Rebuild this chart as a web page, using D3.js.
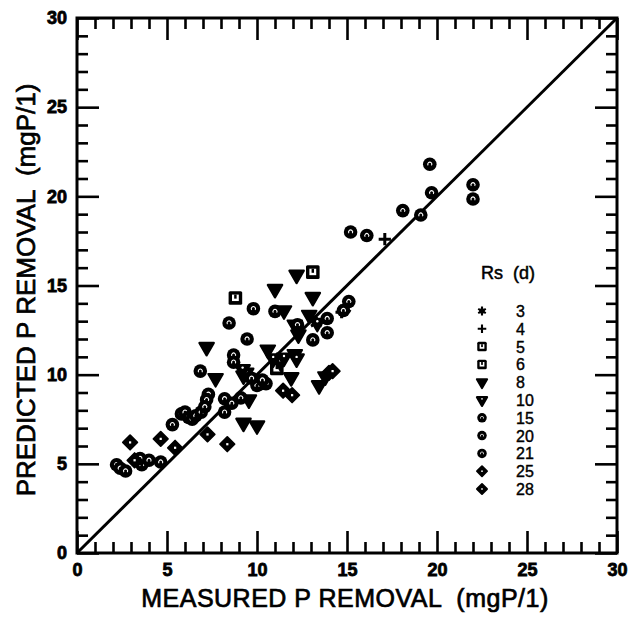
<!DOCTYPE html>
<html>
<head>
<meta charset="utf-8">
<script src="https://cdn.jsdelivr.net/npm/d3@7"></script>
<style>
  body { margin: 0; background: #fff; }
  text { font-family: "Liberation Sans", Arial, sans-serif; fill: #000; }
  .tick line { stroke: #000; stroke-width: 2.6; }
</style>
</head>
<body>
<svg width="628" height="617"></svg>
<script>
// retention times in the legend (days)
const rsLabels = ["3", "4", "5", "6", "8", "10", "15", "20", "21", "25", "28"];

// measured vs predicted P removal (mgP/l), one array per Rs
const rs3 = [[13.3, 12.9], [14.9, 13.7]];
const rs4 = [[17.1, 17.6], [14.7, 13.5]];
const rs5 = [[13.1, 15.75], [8.8, 14.3]];
const rs6 = [[11.1, 10.35]];
const rs8 = [[12.2, 15.6], [11.0, 14.8], [13.1, 14.35], [11.5, 13.6], [12.9, 13.35], [7.2, 11.55],
  [10.6, 11.4], [12.1, 11.15], [7.7, 9.8], [11.9, 9.85], [9.25, 9.95], [9.55, 8.6], [9.25, 7.3],
  [10.0, 7.15], [13.45, 9.4], [12.1, 12.8], [12.3, 12.25], [13.8, 9.9]];
const rs10 = [[12.2, 10.9], [11.3, 10.7], [10.9, 10.9], [9.4, 10.1], [9.2, 10.3], [13.35, 12.9], [11.5, 10.95]];
const rs15 = [[9.8, 13.7], [11.0, 13.55], [9.45, 12.0], [6.85, 10.2], [8.7, 11.1], [8.7, 10.7], [8.2, 8.65],
  [8.2, 7.9], [5.3, 7.2], [4.65, 5.1], [15.2, 18.0], [16.1, 17.8], [19.6, 21.8], [19.7, 20.2], [22.0, 20.65], [22.0, 19.85]];
const rs20 = [[8.45, 12.9], [13.1, 11.95], [13.9, 12.35], [13.9, 13.15], [12.25, 12.8], [15.1, 14.1], [14.8, 13.6],
  [18.1, 19.2], [19.1, 18.95], [8.6, 8.4], [9.1, 8.7], [10.2, 9.5], [10.0, 9.4], [9.7, 9.8], [7.3, 8.9], [7.2, 8.6]];
const rs21 = [[5.8, 7.8], [6.0, 7.9], [6.2, 7.6], [6.4, 7.5], [6.6, 7.7], [6.9, 7.9], [7.1, 8.2], [2.2, 4.95],
  [2.4, 4.75], [2.7, 4.6], [3.4, 5.2], [3.6, 4.95], [3.5, 5.3], [4.0, 5.2], [10.5, 9.5], [10.3, 9.7]];
const rs25 = [[2.95, 6.2], [4.65, 6.4], [5.45, 5.9], [7.25, 6.65], [8.35, 6.1]];
const rs28 = [[14.0, 10.1], [11.45, 9.1], [11.95, 8.85], [3.2, 5.2], [14.2, 10.2]];

const seriesData = [rs3, rs4, rs5, rs6, rs8, rs10, rs15, rs20, rs21, rs25, rs28];
const seriesShape = ["star", "plus", "square", "square", "tri", "tridot", "circ", "circ", "circ", "diam", "diam"];

const majorTicks = [0, 5, 10, 15, 20, 25, 30];
const minorTicks = d3.range(0, 31);
const lineEnds = [0, 30];

const svg = d3.select("svg"),
  margin = { top: 18, right: 11, bottom: 64, left: 77 },
  width = +svg.attr("width") - margin.left - margin.right,
  height = +svg.attr("height") - margin.top - margin.bottom;

const x = d3.scaleLinear().domain([0, 30]).range([margin.left, margin.left + width]);
const y = d3.scaleLinear().domain([0, 30]).range([margin.top + height, margin.top]);

// axes: minor ticks every unit, major every 5, all pointing inwards
function addAxis(axisFn, scale, transform, labels) {
  svg.append("g").attr("transform", transform)
    .call(axisFn(scale).tickValues(minorTicks.filter(v => v % 5 !== 0)).tickSize(-11).tickFormat(""))
    .call(g => g.select(".domain").remove());
  const g = svg.append("g").attr("transform", transform)
    .call(axisFn(scale).tickValues(majorTicks).tickSize(-22)
      .tickPadding(labels ? 10 : 0).tickFormat(labels ? d3.format("d") : ""))
    .call(g => g.select(".domain").remove());
  g.selectAll("text")
    .attr("font-family", "'Liberation Sans', Arial, sans-serif")
    .attr("font-size", 18)
    .attr("font-weight", "bold")
    .attr("stroke", "#000").attr("stroke-width", 0.8);
  return g;
}
addAxis(d3.axisBottom, x, "translate(0," + (margin.top + height) + ")", true);
addAxis(d3.axisTop, x, "translate(0," + margin.top + ")", false);
addAxis(d3.axisLeft, y, "translate(" + margin.left + ",0)", true);
addAxis(d3.axisRight, y, "translate(" + (margin.left + width) + ",0)", false);

svg.append("rect")
  .attr("x", margin.left).attr("y", margin.top)
  .attr("width", width).attr("height", height)
  .attr("fill", "none").attr("stroke", "#000").attr("stroke-width", 3);

// 1:1 line
svg.append("line")
  .attr("x1", x(lineEnds[0])).attr("y1", y(lineEnds[0]))
  .attr("x2", x(lineEnds[1])).attr("y2", y(lineEnds[1]))
  .attr("stroke", "#000").attr("stroke-width", 3);

// marker drawing
function drawMarker(g, shape, s) {
  const r = 6.8 * s;
  if (shape === "star") {
    g.append("path").attr("d", d3.symbol(d3.symbolAsterisk, 110 * s * s)())
      .attr("stroke", "#000").attr("stroke-width", 3 * s);
    g.append("circle").attr("r", 4 * s).attr("fill", "#000");
  } else if (shape === "plus") {
    g.append("path").attr("d", `M${-r * 0.9},0H${r * 0.9}M0,${-r * 0.9}V${r * 0.9}`)
      .attr("stroke", "#000").attr("stroke-width", 3 * s);
  } else if (shape === "square") {
    g.append("rect").attr("x", -r).attr("y", -r).attr("width", 2 * r).attr("height", 2 * r)
      .attr("rx", 1.5).attr("fill", "#000");
    g.append("rect").attr("x", -r * 0.5).attr("y", -r * 0.5).attr("width", r * 1.0).attr("height", r * 0.95)
      .attr("fill", "#fff");
    g.append("rect").attr("x", -r * 0.18).attr("y", -r * 0.5).attr("width", r * 0.36).attr("height", r * 0.6)
      .attr("fill", "#000");
  } else if (shape === "tri" || shape === "tridot") {
    g.append("path").attr("d", d3.symbol(d3.symbolTriangle, 90 * s * s)())
      .attr("transform", "rotate(180)").attr("fill", "#000")
      .attr("stroke", "#000").attr("stroke-width", 2.2).attr("stroke-linejoin", "round");
    if (shape === "tridot") g.append("circle").attr("cy", -r * 0.25).attr("r", 1.2 * s).attr("fill", "#fff");
  } else if (shape === "circ") {
    g.append("circle").attr("r", r).attr("fill", "#000");
    const a = d3.arc().innerRadius(r * 0.22).outerRadius(r * 0.38)
      .startAngle(Math.PI * 0.3).endAngle(Math.PI * 1.7);
    g.append("path").attr("d", a()).attr("fill", "#fff").attr("transform", "rotate(180)");
  } else if (shape === "diam") {
    g.append("path").attr("d", d3.symbol(d3.symbolSquare, 105 * s * s)())
      .attr("transform", "rotate(45)")
      .attr("fill", "#000").attr("stroke", "#000").attr("stroke-width", 1.8).attr("stroke-linejoin", "round");
    g.append("rect").attr("x", -1.1 * s).attr("y", -1.1 * s).attr("width", 2.2 * s).attr("height", 2.2 * s)
      .attr("fill", "#fff");
  }
}

seriesData.forEach((data, i) => {
  svg.append("g").selectAll("g")
    .data(data)
    .enter()
    .append("g")
    .attr("transform", d => "translate(" + x(d[0]) + "," + y(d[1]) + ")")
    .each(function() { drawMarker(d3.select(this), seriesShape[i], 1); });
});

// legend
const legend = svg.append("g").attr("transform", "translate(482,0)");
legend.append("text").attr("x", -1).attr("y", 279)
  .attr("font-size", 18).attr("stroke", "#000").attr("stroke-width", 0.5)
  .style("white-space", "pre").text("Rs  (d)");
rsLabels.forEach((lab, i) => {
  const ly = 311 + i * 17.8;
  const g = legend.append("g").attr("transform", "translate(0," + ly + ")");
  drawMarker(g, seriesShape[i], 0.7);
  legend.append("text").attr("x", 34).attr("y", ly + 6)
    .attr("font-size", 16).attr("stroke", "#000").attr("stroke-width", 0.4)
    .text(lab);
});

// axis titles
svg.append("text")
  .attr("x", 345).attr("y", 607)
  .attr("text-anchor", "middle")
  .attr("font-size", 25).attr("letter-spacing", 0.5)
  .attr("stroke", "#000").attr("stroke-width", 0.7)
  .style("white-space", "pre")
  .text("MEASURED P REMOVAL  (mgP/1)");

svg.append("text")
  .attr("transform", "translate(35,290) rotate(-90)")
  .attr("text-anchor", "middle")
  .attr("font-size", 26)
  .attr("stroke", "#000").attr("stroke-width", 0.7)
  .style("white-space", "pre")
  .text("PREDICTED P REMOVAL  (mgP/1)");
</script>
</body>
</html>
